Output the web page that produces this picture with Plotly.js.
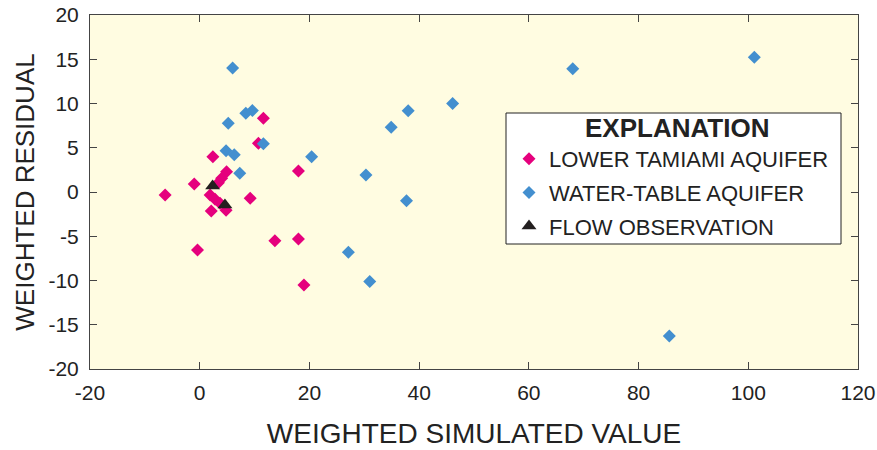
<!DOCTYPE html>
<html>
<head>
<meta charset="utf-8">
<script src="https://cdn.plot.ly/plotly-3.0.1.min.js"></script>
<style>html,body{margin:0;padding:0;background:#fff;}#chart{width:877px;height:450px;}</style>
</head>
<body>
<div id="chart"></div>
<script>
// Lower Tamiami aquifer
const lowerX = [11.6, 10.7, 2.4, 18.0, -1.0, -6.3, 4.9, 4.0, 3.4, 1.9, 2.8, 3.7, 9.2, 2.1, 4.8, 13.7, 18.0, -0.4, 19.0];
const lowerY = [8.33, 5.5, 3.99, 2.37, 0.9, -0.34, 2.3, 1.55, 1.05, -0.34, -0.83, -1.28, -0.71, -2.15, -2.05, -5.5, -5.31, -6.55, -10.5];
// Water-table aquifer
const waterX = [6.0, 8.4, 9.6, 5.2, 11.6, 4.8, 6.3, 20.4, 7.3, 27.1, 31.0, 30.3, 34.9, 38.0, 37.7, 46.1, 68.0, 101.1, 85.6];
const waterY = [14.0, 8.9, 9.2, 7.76, 5.46, 4.67, 4.22, 3.99, 2.11, -6.8, -10.1, 1.92, 7.31, 9.19, -0.98, 10.0, 13.94, 15.22, -16.27];
// Flow observations
const flowX = [2.35, 4.6];
const flowY = [0.68, -1.47];

const seriesNames = ['LOWER TAMIAMI AQUIFER', 'WATER-TABLE AQUIFER', 'FLOW OBSERVATION'];
const legendTitle = 'EXPLANATION';
const xTicks = [-20, 0, 20, 40, 60, 80, 100, 120];
const yTicks = [-20, -15, -10, -5, 0, 5, 10, 15, 20];

const FONT = 'Liberation Sans, Arial, sans-serif';

const traces = [
  {x: lowerX, y: lowerY, name: seriesNames[0], type: 'scatter', mode: 'markers', legendgroup: 'a',
   marker: {symbol: 'diamond', size: 10, color: '#E5007D'}},
  {x: waterX, y: waterY, name: seriesNames[1], type: 'scatter', mode: 'markers', legendgroup: 'b',
   marker: {symbol: 'diamond', size: 10, color: '#438FCF'}},
  {x: flowX, y: flowY, name: seriesNames[2], type: 'scatter', mode: 'markers', legendgroup: 'c',
   marker: {symbol: 'triangle-up', size: 13, color: '#231F20'}}
];

const axisCommon = {
  showgrid: false, zeroline: false, showline: true, linecolor: '#444', linewidth: 1,
  mirror: 'ticks', ticks: 'inside', ticklen: 7, tickcolor: '#444', tickwidth: 1,
  tickfont: {family: FONT, size: 21, color: '#222'}
};

// legend box geometry (paper fractions)
const plotL = 90, plotR = 858, plotT = 15, plotB = 369;
const px2x = p => (p - plotL) / (plotR - plotL);
const py2y = p => (plotB - p) / (plotB - plotT);

const layout = {
  width: 877, height: 450,
  margin: {l: 90, r: 19, t: 15, b: 81},
  paper_bgcolor: '#ffffff',
  plot_bgcolor: '#FFFCE1',
  showlegend: true,
  xaxis: Object.assign({}, axisCommon, {
    range: [-20, 120], tickmode: 'array', tickvals: xTicks, ticktext: xTicks.map(String),
    ticklabelstandoff: 5,
    title: {text: 'WEIGHTED SIMULATED VALUE', font: {family: FONT, size: 28, color: '#222'}, standoff: 20}
  }),
  yaxis: Object.assign({}, axisCommon, {
    range: [-20, 20], tickmode: 'array', tickvals: yTicks, ticktext: yTicks.map(String),
    ticklabelstandoff: 6,
    title: {text: 'WEIGHTED RESIDUAL', font: {family: FONT, size: 26, color: '#222'}, standoff: 6}
  }),
  shapes: [{
    type: 'rect', xref: 'paper', yref: 'paper',
    x0: px2x(506), x1: px2x(841), y0: py2y(244), y1: py2y(113),
    fillcolor: '#ffffff', line: {color: '#222', width: 1}, layer: 'above'
  }],
  annotations: [{
    text: '<b>' + legendTitle + '</b>', xref: 'paper', yref: 'paper',
    x: px2x(677), y: py2y(128), xanchor: 'center', yanchor: 'middle', showarrow: false,
    font: {family: FONT, size: 26, color: '#222'}
  }],
  legend: {
    x: px2x(509), y: py2y(138), xanchor: 'left', yanchor: 'top',
    bgcolor: 'rgba(0,0,0,0)', borderwidth: 0,
    font: {family: FONT, size: 22, color: '#222'},
    tracegroupgap: 2,
    itemwidth: 30
  }
};

Plotly.newPlot('chart', traces, layout, {displayModeBar: false, staticPlot: true});
</script>
</body>
</html>
